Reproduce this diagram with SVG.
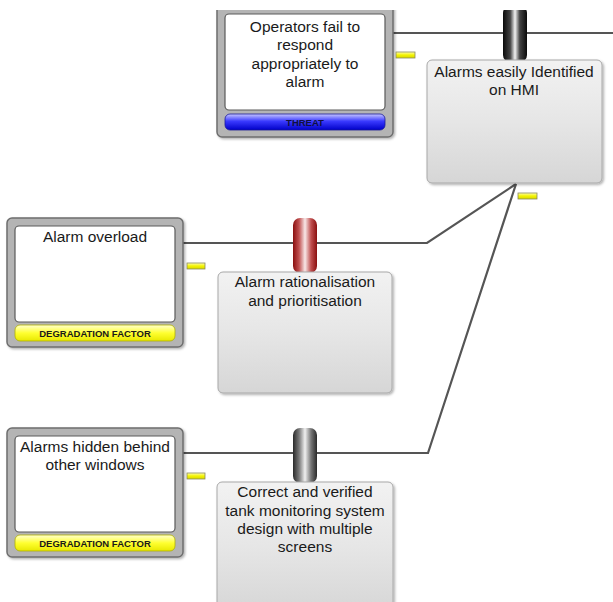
<svg xmlns="http://www.w3.org/2000/svg" width="613" height="602" viewBox="0 0 613 602">
  <style>
    .frame { fill: #b4b4b4; stroke: #6e6e6e; stroke-width: 1.5; }
    .card { fill: #ffffff; stroke: #5a5a5a; stroke-width: 1.2; }
    .ctrl { fill: url(#ctrlFill); stroke: #a8a8a8; stroke-width: 1; filter: url(#shadow); }
    .txt { font-family: "Liberation Sans", Arial, sans-serif; font-size: 15.5px; fill: #1a1a1a; text-anchor: middle; }
    .tag { font-family: "Liberation Sans", Arial, sans-serif; font-size: 9.5px; font-weight: bold; text-anchor: middle; }
    .link { fill: none; stroke: #555555; stroke-width: 2.2; }
    .flag { fill: url(#flagFill); stroke: #8a8a5a; stroke-width: 0.8; }
  </style>
  <defs>
    <linearGradient id="ctrlFill" x1="0" y1="0" x2="0" y2="1">
      <stop offset="0" stop-color="#f2f2f2"/>
      <stop offset="0.5" stop-color="#e6e6e6"/>
      <stop offset="1" stop-color="#d6d6d6"/>
    </linearGradient>
    <linearGradient id="threatBar" x1="0" y1="0" x2="0" y2="1">
      <stop offset="0" stop-color="#c8c8ff"/>
      <stop offset="0.45" stop-color="#3a3aff"/>
      <stop offset="1" stop-color="#0000c8"/>
    </linearGradient>
    <linearGradient id="degBar" x1="0" y1="0" x2="0" y2="1">
      <stop offset="0" stop-color="#ffffd0"/>
      <stop offset="0.5" stop-color="#ffff30"/>
      <stop offset="1" stop-color="#e8e800"/>
    </linearGradient>
    <linearGradient id="flagFill" x1="0" y1="0" x2="0" y2="1">
      <stop offset="0" stop-color="#ffffb0"/>
      <stop offset="0.5" stop-color="#f4f400"/>
      <stop offset="1" stop-color="#d8d800"/>
    </linearGradient>
    <linearGradient id="barBlack" x1="0" y1="0" x2="1" y2="0">
      <stop offset="0" stop-color="#0a0a0a"/>
      <stop offset="0.3" stop-color="#444444"/>
      <stop offset="0.5" stop-color="#f4f4f4"/>
      <stop offset="0.7" stop-color="#444444"/>
      <stop offset="1" stop-color="#0a0a0a"/>
    </linearGradient>
    <linearGradient id="barRed" x1="0" y1="0" x2="1" y2="0">
      <stop offset="0" stop-color="#8a0f0f"/>
      <stop offset="0.25" stop-color="#c05050"/>
      <stop offset="0.5" stop-color="#f8e8e8"/>
      <stop offset="0.75" stop-color="#c05050"/>
      <stop offset="1" stop-color="#8a0f0f"/>
    </linearGradient>
    <linearGradient id="barGrey" x1="0" y1="0" x2="1" y2="0">
      <stop offset="0" stop-color="#2a2a2a"/>
      <stop offset="0.25" stop-color="#777777"/>
      <stop offset="0.5" stop-color="#f0f0f0"/>
      <stop offset="0.75" stop-color="#777777"/>
      <stop offset="1" stop-color="#2a2a2a"/>
    </linearGradient>
    <filter id="shadow" x="-10%" y="-10%" width="125%" height="125%">
      <feDropShadow dx="1.5" dy="1.5" stdDeviation="1.2" flood-color="#000000" flood-opacity="0.3"/>
    </filter>
    <clipPath id="topCut">
      <rect x="0" y="10" width="613" height="592"/>
    </clipPath>
  </defs>

  <rect width="613" height="602" fill="#ffffff"/>

  <!-- connectors -->
  <g id="connectors">
    <line class="link" x1="393" y1="33" x2="613" y2="33"/>
    <polyline class="link" points="183,243 427,243 516,184"/>
    <polyline class="link" points="183,453 428,453 516,184"/>
  </g>

  <!-- threat -->
  <g id="threat" clip-path="url(#topCut)">
    <rect class="frame" x="217" y="2" width="176" height="135" rx="5" filter="url(#shadow)"/>
    <rect class="card" x="225" y="14" width="160" height="96" rx="4"/>
    <rect x="225" y="114" width="160" height="16" rx="5" fill="url(#threatBar)" stroke="#1a1a9a" stroke-width="0.8"/>
    <text class="tag" x="305" y="126" fill="#101040">THREAT</text>
    <text class="txt" x="305" y="32">Operators fail to</text>
    <text class="txt" x="305" y="50">respond</text>
    <text class="txt" x="305" y="69">appropriately to</text>
    <text class="txt" x="305" y="87">alarm</text>
    <rect class="flag" x="396" y="52" width="19" height="6"/>
  </g>

  <!-- barrier on the top pathway -->
  <g id="barrier-hmi">
    <rect x="503" y="6" width="24" height="56" rx="7" fill="url(#barBlack)" clip-path="url(#topCut)"/>
    <rect class="ctrl" x="427" y="60" width="175" height="123" rx="5"/>
    <text class="txt" x="514" y="77">Alarms easily Identified</text>
    <text class="txt" x="514" y="95">on HMI</text>
    <rect class="flag" x="518" y="193" width="19" height="6"/>
  </g>

  <!-- degradation factor: alarm overload -->
  <g id="df-overload">
    <rect class="frame" x="7" y="218" width="176" height="129" rx="5" filter="url(#shadow)"/>
    <rect class="card" x="15" y="226" width="160" height="96" rx="4"/>
    <rect x="15" y="325" width="160" height="16" rx="5" fill="url(#degBar)" stroke="#b0b000" stroke-width="0.8"/>
    <text class="tag" x="95" y="337" fill="#1a1a1a">DEGRADATION FACTOR</text>
    <text class="txt" x="95" y="242">Alarm overload</text>
    <rect class="flag" x="187" y="263" width="18" height="6"/>
  </g>

  <!-- degradation control: rationalisation -->
  <g id="dc-rationalisation">
    <rect x="293" y="218" width="24" height="55" rx="7" fill="url(#barRed)"/>
    <rect class="ctrl" x="218" y="272" width="174" height="121" rx="5"/>
    <text class="txt" x="305" y="287">Alarm rationalisation</text>
    <text class="txt" x="305" y="306">and prioritisation</text>
  </g>

  <!-- degradation factor: hidden alarms -->
  <g id="df-hidden">
    <rect class="frame" x="7" y="428" width="176" height="129" rx="5" filter="url(#shadow)"/>
    <rect class="card" x="15" y="436" width="160" height="96" rx="4"/>
    <rect x="15" y="535" width="160" height="16" rx="5" fill="url(#degBar)" stroke="#b0b000" stroke-width="0.8"/>
    <text class="tag" x="95" y="547" fill="#1a1a1a">DEGRADATION FACTOR</text>
    <text class="txt" x="95" y="452">Alarms hidden behind</text>
    <text class="txt" x="95" y="470">other windows</text>
    <rect class="flag" x="187" y="473" width="18" height="6"/>
  </g>

  <!-- degradation control: multi-screen design -->
  <g id="dc-screens">
    <rect x="293" y="428" width="24" height="55" rx="7" fill="url(#barGrey)"/>
    <rect class="ctrl" x="217" y="482" width="176" height="130" rx="5"/>
    <text class="txt" x="305" y="497">Correct and verified</text>
    <text class="txt" x="305" y="516">tank monitoring system</text>
    <text class="txt" x="305" y="534">design with multiple</text>
    <text class="txt" x="305" y="552">screens</text>
  </g>
</svg>
